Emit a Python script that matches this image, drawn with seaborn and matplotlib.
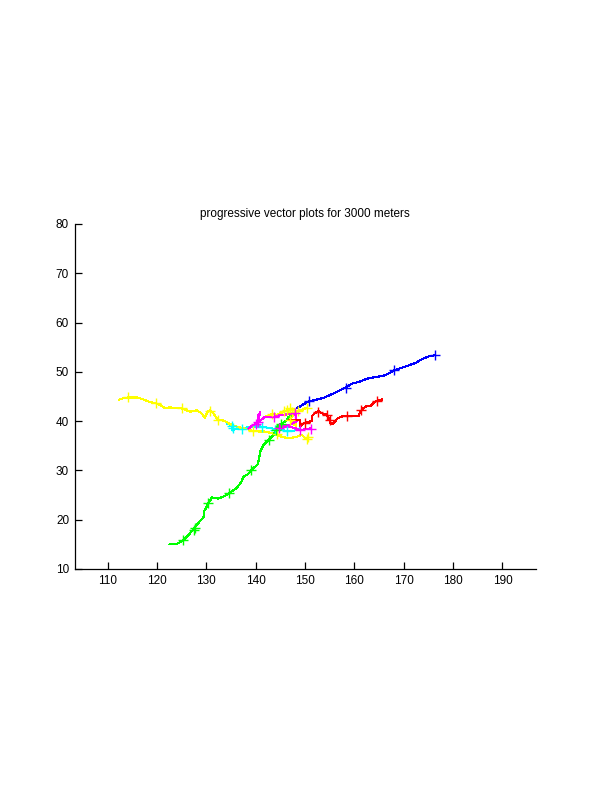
import matplotlib
matplotlib.use("Agg")
import matplotlib.pyplot as plt
import seaborn as sns
import pandas as pd

# ---- data ----
blue_x = [148.3, 149.5, 150.7, 152.0, 153.7, 155.7, 157.0, 158.2, 159.5, 161.0, 162.5,
          164.0, 165.9, 167.0, 168.1, 169.5, 171.0, 172.6, 173.7, 175.0, 176.4]
blue_y = [42.6, 43.3, 44.0, 44.3, 44.7, 45.6, 46.2, 46.8, 47.6, 48.0, 48.6,
          48.9, 49.2, 49.7, 50.3, 50.8, 51.3, 51.9, 52.6, 53.1, 53.4]
blue_mx = [150.7, 158.2, 168.1, 176.4]
blue_my = [44.0, 46.8, 50.3, 53.4]

green_x = [122.5, 123.9, 125.2, 126.3, 127.4, 128.5, 129.5, 129.6, 130.4, 131.1, 132.4,
           133.5, 134.6, 136.1, 137.0, 137.5, 138.5, 139.1, 140.4, 140.7, 140.9, 141.6,
           142.6, 143.6, 144.1, 144.7, 145.6, 146.3, 146.6, 147.3]
green_y = [15.0, 15.0, 15.8, 16.8, 18.1, 19.5, 20.6, 21.8, 23.3, 24.5, 24.3,
           24.7, 25.4, 26.4, 27.5, 28.7, 29.3, 30.1, 31.2, 32.5, 33.8, 35.2,
           36.2, 37.2, 38.1, 39.2, 39.7, 40.2, 40.9, 41.0]
green_mx = [125.2, 127.4, 127.7, 130.4, 134.6, 139.1, 142.6, 144.1, 145.2]
green_my = [15.9, 18.0, 18.4, 23.3, 25.4, 30.1, 36.2, 38.1, 39.4]

red_x = [146.8, 148.0, 149.0, 149.0, 149.8, 150.5, 151.4, 151.4, 152.0, 152.7, 153.6,
         154.4, 154.8, 155.1, 155.5, 156.0, 156.5, 157.3, 158.5, 159.5, 160.8, 161.2,
         161.7, 162.4, 163.5, 164.0, 164.6, 165.6]
red_y = [40.3, 40.3, 40.2, 39.0, 39.6, 39.8, 40.0, 41.0, 41.6, 42.0, 41.5,
         41.3, 40.6, 39.7, 39.4, 39.8, 40.5, 40.9, 41.1, 41.0, 41.0, 41.9,
         42.5, 43.0, 43.2, 43.9, 44.1, 44.4]
red_mx = [149.9, 152.6, 154.5, 155.0, 158.4, 161.4, 164.5]
red_my = [39.6, 41.9, 41.3, 40.3, 41.1, 42.2, 44.0]

yellow_x = [112.2, 113.0, 114.1, 115.9, 117.0, 117.9, 118.8, 119.8, 120.8, 121.6, 122.6,
            123.8, 125.0, 126.0, 126.7, 128.0, 129.0, 129.7, 130.2, 130.7, 131.5, 131.9,
            132.4, 133.5, 134.1, 135.2, 136.1, 137.2, 138.2, 139.5, 140.6, 141.6, 142.6,
            143.6, 144.6, 145.6, 147.0, 148.3, 149.3, 149.8, 150.3]
yellow_y = [44.3, 44.6, 44.8, 44.8, 44.5, 44.1, 43.8, 43.6, 43.2, 42.6, 42.8,
            42.6, 42.6, 42.2, 41.9, 42.2, 41.6, 40.6, 41.9, 42.2, 41.5, 40.8,
            40.3, 40.1, 39.8, 39.2, 38.9, 38.6, 38.4, 38.0, 37.9, 37.9, 37.7,
            37.5, 37.1, 36.7, 36.6, 36.8, 37.2, 36.8, 36.3]
yellow_mx = [114.1, 119.8, 125.0, 130.7, 132.4, 139.5, 144.3, 150.3, 150.5]
yellow_my = [44.8, 43.6, 42.6, 42.1, 40.2, 38.0, 37.3, 36.4, 36.7]

yellow2_x = [142.0, 143.2, 144.3, 145.5, 146.5, 147.3, 148.2, 147.6, 147.0, 147.4, 148.2,
             148.2, 149.2, 150.3]
yellow2_y = [40.9, 41.4, 41.3, 41.8, 42.3, 42.5, 42.0, 41.2, 40.4, 39.6, 39.0,
             42.0, 42.2, 42.7]
yellow2_mx = [143.3, 145.8, 146.3, 146.9, 147.4, 147.0, 148.6, 150.3]
yellow2_my = [41.5, 42.0, 42.3, 42.6, 41.8, 40.3, 42.0, 42.6]

magenta_x = [138.5, 139.5, 140.2, 140.6, 140.9, 140.4, 140.8, 141.9, 142.9, 143.6, 145.0,
             146.5, 148.0, 148.3, 147.0, 145.0, 146.5, 148.0, 149.0, 150.0, 151.1]
magenta_y = [38.5, 39.2, 39.6, 40.6, 41.8, 41.0, 40.0, 40.9, 40.9, 40.9, 41.2,
             41.4, 41.6, 40.0, 39.3, 38.9, 38.9, 38.6, 38.1, 38.4, 38.5]
magenta_mx = [140.0, 140.4, 143.6, 148.0, 144.8, 149.0, 151.1]
magenta_my = [39.5, 39.8, 40.9, 41.6, 38.7, 38.1, 38.5]

cyan_x = [134.1, 134.8, 135.3, 135.2, 136.0, 137.2, 138.5, 139.8, 141.0, 142.2, 143.3,
          144.0, 145.0, 146.3, 147.5, 148.5, 149.0]
cyan_y = [39.5, 39.3, 38.8, 38.2, 38.4, 38.5, 38.8, 38.9, 38.9, 38.7, 38.6,
          38.1, 38.2, 38.0, 38.0, 38.3, 38.6]
cyan_mx = [135.1, 135.4, 137.2, 141.2, 143.9, 146.3]
cyan_my = [39.0, 38.7, 38.5, 38.9, 38.1, 38.0]

x_ticks = [110, 120, 130, 140, 150, 160, 170, 180, 190]
y_ticks = [10, 20, 30, 40, 50, 60, 70, 80]
title_text = "progressive vector plots for 3000 meters"

tracks = [
    ("#00ffff", cyan_x, cyan_y, cyan_mx, cyan_my),
    ("#ffff00", yellow_x, yellow_y, yellow_mx, yellow_my),
    ("#ffff00", yellow2_x, yellow2_y, yellow2_mx, yellow2_my),
    ("#00ff00", green_x, green_y, green_mx, green_my),
    ("#ff00ff", magenta_x, magenta_y, magenta_mx, magenta_my),
    ("#ff0000", red_x, red_y, red_mx, red_my),
    ("#0000ff", blue_x, blue_y, blue_mx, blue_my),
]

# ---- plot ----
sns.set_style("white")
plt.rcParams["font.family"] = ["Liberation Sans", "DejaVu Sans"]

fig = plt.figure(figsize=(6.12, 7.92), dpi=100)
ax = fig.add_axes([0.122, 0.2816, 0.753, 0.4356])

for color, tx, ty, mx, my in tracks:
    line_df = pd.DataFrame({"x": tx, "y": ty})
    sns.lineplot(data=line_df, x="x", y="y", sort=False, estimator=None,
                 color=color, linewidth=0.8, ax=ax, antialiased=False)
    mark_df = pd.DataFrame({"x": mx, "y": my})
    sns.scatterplot(data=mark_df, x="x", y="y", marker="+", s=60,
                    color=color, linewidth=1.0, ax=ax, zorder=3)

ax.set_xlim(103.3, 196.7)
ax.set_ylim(10, 80)
ax.set_xticks(x_ticks)
ax.set_yticks(y_ticks)
ax.set_xlabel("")
ax.set_ylabel("")
sns.despine(ax=ax, top=True, right=True)
for s in ["left", "bottom"]:
    ax.spines[s].set_color("black")
    ax.spines[s].set_linewidth(0.9)
ax.tick_params(direction="in", length=5, width=0.9, colors="black",
               labelsize=8.5, pad=4, left=True, bottom=True)
ax.set_title(title_text, fontsize=8.5, pad=5, color="black")

fig.savefig("out.png", dpi=100, facecolor="white")
